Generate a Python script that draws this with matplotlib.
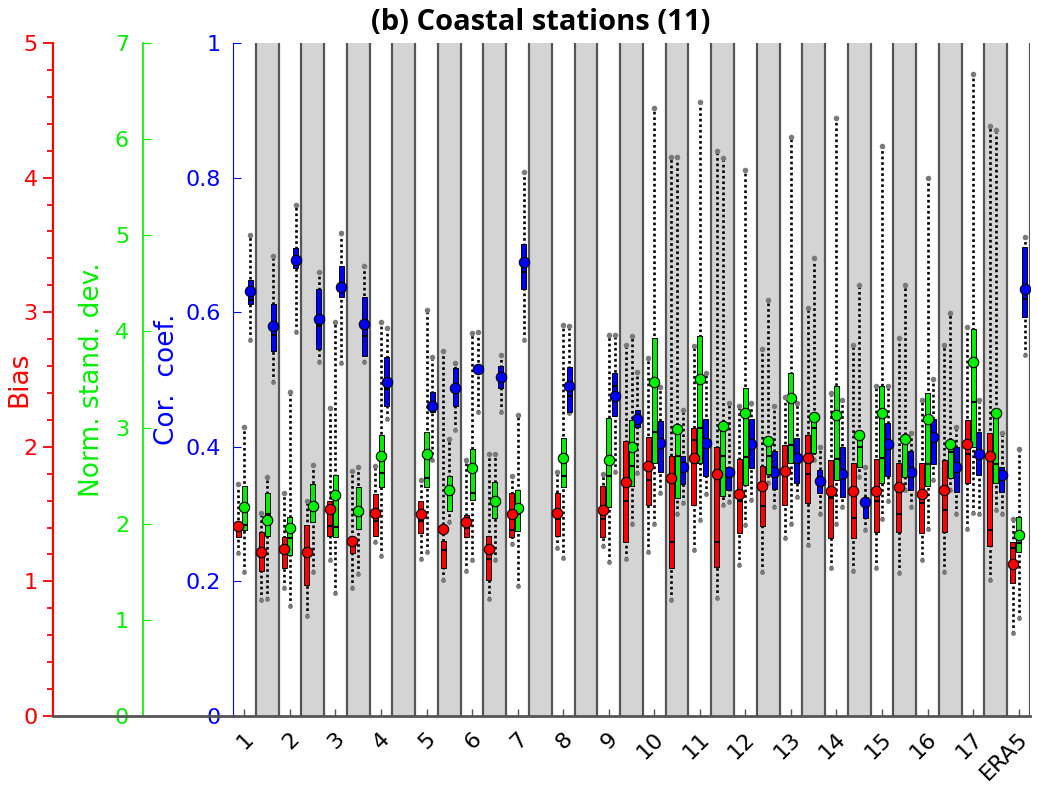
import numpy as np
import matplotlib
matplotlib.use("Agg")
import matplotlib.pyplot as plt
from matplotlib.lines import Line2D
from matplotlib.ticker import MultipleLocator
import matplotlib.transforms as mtransforms

nan = np.nan

# group labels (white band = tick, gray band = second variant of the same group)
groups = [str(i) for i in range(1, 18)] + ["ERA5"]

# slots ordered 1w,1g,2w,2g,...,17w,17g,ERA5
bias_mean = [1.41, 1.22, 1.24, 1.22, 1.54, 1.30, 1.51, nan, 1.50, 1.39, 1.44, 1.24, 1.50, nan, 1.51, nan, 1.53, 1.74,
             1.86, 1.77, 1.92, 1.80, 1.65, 1.71, 1.82, 1.92, 1.67, 1.67, 1.67, 1.70, 1.65, 1.68, 2.02, 1.93, 1.13]
bias_med = [1.38, 1.20, 1.22, 1.20, 1.41, 1.28, 1.45, nan, 1.45, 1.23, 1.40, 1.17, 1.38, nan, 1.46, nan, 1.46, 1.60,
            1.75, 1.29, 2.05, 1.29, 1.60, 1.56, 1.80, 1.80, 1.62, 1.47, 1.60, 1.50, 1.58, 1.53, 1.95, 1.38, 1.25]
bias_q1 = [1.33, 1.08, 1.10, 0.97, 1.34, 1.21, 1.34, nan, 1.36, 1.10, 1.33, 1.01, 1.33, nan, 1.34, nan, 1.33, 1.29,
           1.57, 1.10, 1.57, 1.11, 1.36, 1.41, 1.57, 1.58, 1.32, 1.32, 1.37, 1.37, 1.36, 1.37, 1.73, 1.26, 0.99]
bias_q3 = [1.44, 1.37, 1.33, 1.42, 1.60, 1.33, 1.65, nan, 1.60, 1.30, 1.49, 1.34, 1.66, nan, 1.66, nan, 1.71, 2.04,
           2.07, 1.93, 2.14, 2.00, 1.91, 1.86, 2.01, 2.09, 1.90, 1.88, 1.91, 1.88, 1.88, 1.90, 2.20, 2.10, 1.29]
bias_lo = [1.21, 0.86, 0.95, 0.74, 1.16, 0.95, 1.29, nan, 1.17, 1.01, 1.08, 0.87, 1.28, nan, 1.25, nan, 1.26, 1.17,
           1.22, 0.86, 1.23, 0.88, 1.12, 1.07, 1.32, 1.27, 1.10, 1.08, 1.10, 1.06, 1.16, 1.07, 1.39, 1.01, 0.62]
bias_hi = [1.72, 1.51, 1.66, 1.60, 2.29, 1.82, 1.86, nan, 1.75, 2.71, 1.90, 1.95, 1.78, nan, 1.81, nan, 1.80, 2.76,
           2.66, 4.15, 2.75, 4.20, 2.30, 2.73, 2.37, 3.03, 2.40, 2.76, 2.45, 2.81, 2.35, 2.76, 2.89, 4.38, 1.46]

std_mean = [2.17, 2.04, 1.96, 2.18, 2.30, 2.13, 2.70, nan, 2.72, 2.35, 2.58, 2.24, 2.16, nan, 2.68, nan, 2.66, 2.80,
            3.47, 2.99, 3.50, 3.02, 3.15, 2.86, 3.31, 3.11, 3.13, 2.92, 3.15, 2.88, 3.09, 2.83, 3.68, 3.15, 1.88]
std_med = [1.99, 2.10, 1.85, 2.20, 1.97, 2.10, 2.53, nan, 2.48, 2.30, 2.32, 2.20, 2.10, nan, 2.50, nan, 2.50, 2.60,
           2.95, 2.70, 3.00, 2.70, 2.69, 2.70, 2.82, 3.00, 2.67, 2.80, 2.68, 2.85, 2.62, 2.75, 3.27, 2.62, 1.80]
std_q1 = [1.93, 1.87, 1.67, 2.02, 1.86, 1.95, 2.38, nan, 2.38, 2.13, 2.25, 2.06, 1.92, nan, 2.38, nan, 2.17, 2.39,
          2.63, 2.27, 2.63, 2.29, 2.40, 2.52, 2.63, 2.74, 2.45, 2.59, 2.42, 2.49, 2.39, 2.48, 2.80, 2.42, 1.71]
std_q3 = [2.39, 2.32, 2.07, 2.41, 2.51, 2.38, 2.92, nan, 2.95, 2.50, 2.78, 2.43, 2.35, nan, 2.89, nan, 3.10, 3.08,
          3.93, 3.01, 3.95, 3.06, 3.41, 2.88, 3.57, 3.15, 3.43, 2.94, 3.43, 2.92, 3.36, 2.85, 4.03, 3.18, 2.07]
std_lo = [1.50, 1.22, 1.14, 1.50, 1.28, 1.48, 1.66, nan, 1.71, 2.02, 1.62, 1.62, 1.35, nan, 1.64, nan, 1.60, 2.00,
          2.00, 2.10, 2.04, 2.19, 1.99, 2.42, 2.00, 2.66, 2.00, 2.49, 2.05, 2.35, 1.94, 2.35, 2.11, 2.14, 1.02]
std_hi = [3.01, 2.49, 3.37, 2.61, 4.10, 2.59, 4.10, nan, 4.22, 2.88, 3.98, 2.73, 3.13, nan, 4.07, nan, 3.96, 3.95,
          6.32, 5.81, 6.39, 5.80, 5.68, 4.33, 6.02, 4.76, 6.22, 4.48, 5.93, 4.48, 5.60, 4.19, 6.68, 6.10, 2.78]

cor_mean = [0.632, 0.580, 0.677, 0.590, 0.637, 0.582, 0.497, nan, 0.461, 0.487, 0.515, 0.503, 0.674, nan, 0.490, nan,
            0.476, 0.442, 0.406, 0.370, 0.406, 0.362, 0.404, 0.362, 0.384, 0.349, 0.360, 0.318, 0.404, 0.363, 0.414,
            0.370, 0.390, 0.358, 0.634]
cor_med = [0.618, 0.566, 0.680, 0.580, 0.640, 0.564, 0.486, nan, 0.465, 0.480, 0.515, 0.500, 0.660, nan, 0.475, nan,
           0.490, 0.440, 0.400, 0.372, 0.400, 0.360, 0.400, 0.360, 0.385, 0.350, 0.360, 0.315, 0.400, 0.360, 0.410,
           0.370, 0.390, 0.355, 0.619]
cor_q1 = [0.612, 0.543, 0.665, 0.546, 0.623, 0.535, 0.461, nan, 0.452, 0.461, 0.510, 0.487, 0.635, nan, 0.452, nan,
          0.446, 0.430, 0.363, 0.345, 0.357, 0.336, 0.368, 0.338, 0.346, 0.331, 0.326, 0.294, 0.357, 0.336, 0.375,
          0.333, 0.358, 0.333, 0.593]
cor_q3 = [0.648, 0.612, 0.695, 0.634, 0.669, 0.622, 0.533, nan, 0.482, 0.517, 0.520, 0.520, 0.702, nan, 0.518, nan,
          0.510, 0.455, 0.439, 0.386, 0.442, 0.370, 0.442, 0.394, 0.413, 0.366, 0.400, 0.326, 0.435, 0.394, 0.442,
          0.400, 0.422, 0.370, 0.697]
cor_lo = [0.559, 0.497, 0.571, 0.526, 0.524, 0.526, 0.442, nan, 0.380, 0.425, 0.452, 0.452, 0.559, nan, 0.450, nan,
          0.363, 0.361, 0.331, 0.316, 0.330, 0.318, 0.321, 0.310, 0.325, 0.300, 0.310, 0.276, 0.320, 0.310, 0.350,
          0.300, 0.300, 0.300, 0.536]
cor_hi = [0.715, 0.683, 0.759, 0.660, 0.717, 0.668, 0.576, nan, 0.534, 0.525, 0.571, 0.536, 0.808, nan, 0.580, nan,
          0.566, 0.511, 0.489, 0.455, 0.510, 0.465, 0.465, 0.460, 0.465, 0.400, 0.470, 0.370, 0.490, 0.420, 0.500,
          0.430, 0.470, 0.420, 0.712]

RED, GREEN, BLUE = "#ff0000", "#00f000", "#0000ff"
pos = np.arange(1, len(groups) + 0.01, 0.5)

fig = plt.figure(figsize=(10.37, 7.98), dpi=100)
ax = fig.add_axes([233 / 1037, 1 - 716 / 798, 797 / 1037, 673 / 798])
ax.set_xlim(0.75, len(groups) + 0.25)
ax.set_ylim(0, 1)

# gray/white bands
for i in range(1, len(groups)):
    ax.axvspan(i + 0.25, i + 0.75, color="#d4d4d4", zorder=0, lw=0)
for e in np.arange(1.25, len(groups) + 0.3, 0.5):
    ax.axvline(e, color="#555555", lw=1.6, zorder=1)

ax_std = ax.twinx()
ax_bias = ax.twinx()
ax_std.set_ylim(0, 7)
ax_bias.set_ylim(0, 5)


def boxes(a, x, mean, med, q1, q3, lo, hi, color):
    x = np.asarray(x)
    mean, med, q1, q3, lo, hi = (np.asarray(v, float) for v in (mean, med, q1, q3, lo, hi))
    ok = ~np.isnan(mean)
    x = x[ok]
    a.vlines(x, lo[ok], hi[ok], colors="k", lw=1.9, linestyles=(0, (1, 1.1)), zorder=2)
    a.plot(x, hi[ok], "o", ms=4, color="#7a7a7a", mec="none", zorder=2)
    a.plot(x, lo[ok], "o", ms=3.5, color="#7a7a7a", mec="none", zorder=2)
    a.bar(x, q3[ok] - q1[ok], bottom=q1[ok], width=0.11, color=color, edgecolor="k", lw=0.7, zorder=3)
    a.hlines(med[ok], x - 0.055, x + 0.055, colors="k", lw=1.5, zorder=4)
    a.plot(x, mean[ok], "o", ms=7.5, color=color, mec="k", mew=0.8, zorder=5)


boxes(ax, pos + 0.13, cor_mean, cor_med, cor_q1, cor_q3, cor_lo, cor_hi, BLUE)
boxes(ax_std, pos, std_mean, std_med, std_q1, std_q3, std_lo, std_hi, GREEN)
boxes(ax_bias, pos - 0.13, bias_mean, bias_med, bias_q1, bias_q3, bias_lo, bias_hi, RED)

# x axis
ax.set_xticks(np.arange(1, len(groups) + 1))
ax.set_xticklabels(groups, rotation=45, ha="right", va="center", rotation_mode="anchor", fontsize=16)
ax.tick_params(axis="x", direction="in", length=5, width=1, color="#555555", pad=14)
shift = mtransforms.ScaledTranslation(6 / 100, 0, fig.dpi_scale_trans)
for lab in ax.get_xticklabels():
    lab.set_transform(lab.get_transform() + shift)

for s in ("top", "right"):
    ax.spines[s].set_visible(False)
ax.spines["bottom"].set_color("#555555")
ax.spines["bottom"].set_linewidth(2)
ax.spines["left"].set_color(BLUE)
ax.set_yticks(np.arange(0, 1.01, 0.2))
ax.set_yticklabels(["0", "0.2", "0.4", "0.6", "0.8", "1"])
ax.tick_params(axis="y", direction="in", length=6, color=BLUE, labelcolor=BLUE, labelsize=16, pad=9)
ax.set_ylabel("Cor.  coef.", color=BLUE, fontsize=19)
ax.yaxis.set_label_coords(-0.066, 0.5)

for a, c, off in ((ax_std, GREEN, 90), (ax_bias, RED, 180)):
    for s in ("top", "right", "bottom"):
        a.spines[s].set_visible(False)
    a.spines["left"].set_visible(True)
    a.spines["left"].set_position(("outward", off * 0.72))
    a.spines["left"].set_color(c)
    a.yaxis.set_ticks_position("left")
    a.yaxis.set_label_position("left")

ax_std.spines["left"].set_linewidth(1.2)
ax_std.set_yticks(range(0, 8))
ax_std.tick_params(axis="y", direction="in", length=6, color=GREEN, labelcolor=GREEN, labelsize=16, pad=10)
ax_std.set_ylabel("Norm. stand. dev.", color=GREEN, fontsize=19)
ax_std.yaxis.set_label_coords(-0.161, 0.5)

ax_bias.spines["left"].set_linewidth(1.6)
ax_bias.set_yticks(range(0, 6))
ax_bias.yaxis.set_minor_locator(MultipleLocator(0.2))
ax_bias.tick_params(axis="y", which="major", direction="out", length=7, width=1.3, color=RED,
                    labelcolor=RED, labelsize=16, pad=4)
ax_bias.tick_params(axis="y", which="minor", direction="out", length=4, width=1.3, color=RED)
ax_bias.set_ylabel("Bias", color=RED, fontsize=19)
ax_bias.yaxis.set_label_coords(-0.252, 0.5)

# baseline continuing under the extra axes
fig.add_artist(Line2D([53 / 1037, 233 / 1037], [1 - 716 / 798] * 2, color="#555555", lw=2))

fig.text(541 / 1037, 1 - 22 / 798, "(b) Coastal stations (11)", ha="center", va="center",
         fontsize=21, fontweight="bold", family="Open Sans")

fig.savefig("out.png", dpi=100)
